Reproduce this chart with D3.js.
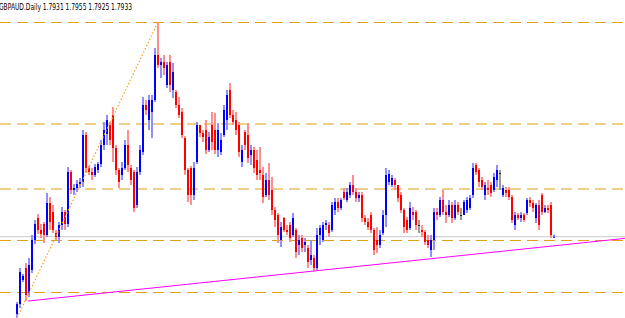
<!DOCTYPE html>
<html>
<head>
<meta charset="utf-8">
<script src="https://cdn.jsdelivr.net/npm/d3@7"></script>
<style>
  html, body { margin: 0; padding: 0; background: #fff; overflow: hidden; }
</style>
</head>
<body>
<div id="chart"></div>
<script>
// GBPAUD daily candles (oldest first)
const symbol = 'GBPAUD.Daily';
const quote = ['1.7931', '1.7955', '1.7925', '1.7933'];

const opens = [
  1.716, 1.726, 1.750, 1.762, 1.737, 1.760, 1.790, 1.812, 1.800, 1.806,
  1.795, 1.827, 1.818, 1.797, 1.793, 1.805, 1.818, 1.806, 1.858, 1.840,
  1.842, 1.846, 1.848, 1.895, 1.862, 1.858, 1.855, 1.860, 1.866, 1.885,
  1.896, 1.905, 1.915, 1.882, 1.860, 1.855, 1.862, 1.885, 1.862, 1.858,
  1.825, 1.858, 1.878, 1.925, 1.910, 1.918, 1.930, 1.975, 1.965, 1.968,
  1.945, 1.968, 1.940, 1.938, 1.925, 1.918, 1.892, 1.860, 1.862, 1.835,
  1.868, 1.905, 1.897, 1.900, 1.880, 1.905, 1.900, 1.880, 1.878, 1.895,
  1.910, 1.940, 1.915, 1.910, 1.905, 1.868, 1.898, 1.895, 1.875, 1.880,
  1.870, 1.860, 1.855, 1.835, 1.850, 1.840, 1.820, 1.815, 1.790, 1.812,
  1.800, 1.805, 1.795, 1.800, 1.785, 1.792, 1.785, 1.782, 1.770, 1.772,
  1.762, 1.795, 1.790, 1.805, 1.805, 1.800, 1.820, 1.828, 1.822, 1.838,
  1.830, 1.835, 1.845, 1.838, 1.832, 1.835, 1.812, 1.808, 1.815, 1.800,
  1.790, 1.785, 1.797, 1.815, 1.848, 1.845, 1.850, 1.845, 1.835, 1.820,
  1.810, 1.802, 1.818, 1.818, 1.805, 1.800, 1.798, 1.790, 1.780, 1.790,
  1.818, 1.815, 1.830, 1.818, 1.815, 1.825, 1.812, 1.825, 1.815, 1.815,
  1.820, 1.822, 1.835, 1.865, 1.860, 1.850, 1.835, 1.842, 1.845, 1.840,
  1.850, 1.857, 1.835, 1.840, 1.840, 1.833, 1.805, 1.815, 1.812, 1.815,
  1.817, 1.830, 1.827, 1.812, 1.825, 1.835, 1.818, 1.822, 1.825, 1.7931
];
const highs = [
  1.728, 1.762, 1.756, 1.767, 1.772, 1.795, 1.810, 1.816, 1.806, 1.808,
  1.837, 1.833, 1.825, 1.800, 1.808, 1.823, 1.820, 1.863, 1.860, 1.846,
  1.850, 1.852, 1.900, 1.898, 1.864, 1.862, 1.866, 1.868, 1.890, 1.908,
  1.915, 1.908, 1.923, 1.885, 1.862, 1.868, 1.890, 1.900, 1.865, 1.860,
  1.863, 1.885, 1.933, 1.930, 1.935, 1.935, 1.982, 2.008, 1.972, 1.975,
  1.968, 1.975, 1.967, 1.940, 1.933, 1.922, 1.894, 1.862, 1.864, 1.868,
  1.908, 1.905, 1.900, 1.910, 1.898, 1.918, 1.917, 1.907, 1.897, 1.925,
  1.940, 1.947, 1.920, 1.918, 1.908, 1.885, 1.900, 1.907, 1.885, 1.883,
  1.880, 1.883, 1.863, 1.857, 1.867, 1.853, 1.823, 1.817, 1.808, 1.813,
  1.805, 1.808, 1.817, 1.802, 1.795, 1.795, 1.792, 1.785, 1.790, 1.775,
  1.802, 1.805, 1.808, 1.810, 1.808, 1.828, 1.832, 1.832, 1.832, 1.842,
  1.842, 1.848, 1.855, 1.842, 1.838, 1.838, 1.815, 1.812, 1.818, 1.802,
  1.803, 1.800, 1.820, 1.862, 1.860, 1.855, 1.852, 1.845, 1.838, 1.822,
  1.813, 1.828, 1.823, 1.820, 1.810, 1.805, 1.800, 1.795, 1.795, 1.822,
  1.822, 1.833, 1.840, 1.825, 1.830, 1.828, 1.830, 1.828, 1.822, 1.830,
  1.833, 1.835, 1.867, 1.867, 1.862, 1.853, 1.848, 1.850, 1.848, 1.857,
  1.865, 1.860, 1.845, 1.843, 1.843, 1.835, 1.818, 1.817, 1.818, 1.817,
  1.832, 1.833, 1.830, 1.827, 1.830, 1.837, 1.825, 1.825, 1.828, 1.7955
];
const lows = [
  1.712, 1.722, 1.748, 1.729, 1.733, 1.757, 1.786, 1.796, 1.792, 1.787,
  1.793, 1.800, 1.797, 1.790, 1.787, 1.800, 1.800, 1.803, 1.836, 1.835,
  1.838, 1.842, 1.843, 1.857, 1.855, 1.850, 1.853, 1.857, 1.863, 1.880,
  1.885, 1.885, 1.868, 1.855, 1.842, 1.850, 1.860, 1.858, 1.845, 1.818,
  1.822, 1.855, 1.875, 1.915, 1.900, 1.892, 1.928, 1.962, 1.952, 1.955,
  1.942, 1.938, 1.932, 1.922, 1.912, 1.892, 1.855, 1.828, 1.825, 1.830,
  1.866, 1.893, 1.888, 1.876, 1.878, 1.880, 1.876, 1.873, 1.875, 1.893,
  1.900, 1.912, 1.905, 1.895, 1.873, 1.863, 1.880, 1.867, 1.865, 1.857,
  1.850, 1.850, 1.827, 1.833, 1.830, 1.815, 1.803, 1.787, 1.783, 1.798,
  1.795, 1.788, 1.793, 1.772, 1.775, 1.778, 1.778, 1.762, 1.765, 1.759,
  1.760, 1.785, 1.788, 1.800, 1.793, 1.798, 1.815, 1.818, 1.820, 1.830,
  1.828, 1.832, 1.835, 1.828, 1.828, 1.808, 1.805, 1.800, 1.797, 1.775,
  1.777, 1.782, 1.795, 1.803, 1.845, 1.843, 1.840, 1.828, 1.817, 1.797,
  1.797, 1.800, 1.810, 1.800, 1.797, 1.793, 1.785, 1.782, 1.773, 1.780,
  1.810, 1.813, 1.815, 1.807, 1.813, 1.807, 1.810, 1.815, 1.810, 1.815,
  1.817, 1.820, 1.832, 1.855, 1.843, 1.840, 1.830, 1.835, 1.833, 1.838,
  1.843, 1.840, 1.833, 1.833, 1.830, 1.807, 1.800, 1.810, 1.808, 1.808,
  1.815, 1.823, 1.818, 1.807, 1.800, 1.815, 1.817, 1.817, 1.792, 1.7925
];
const closes = [
  1.726, 1.758, 1.754, 1.735, 1.765, 1.790, 1.806, 1.800, 1.796, 1.795,
  1.827, 1.808, 1.800, 1.793, 1.805, 1.818, 1.806, 1.858, 1.840, 1.842,
  1.846, 1.848, 1.895, 1.862, 1.858, 1.855, 1.863, 1.866, 1.885, 1.900,
  1.910, 1.890, 1.882, 1.860, 1.848, 1.862, 1.885, 1.865, 1.850, 1.822,
  1.858, 1.880, 1.925, 1.920, 1.930, 1.930, 1.975, 1.965, 1.968, 1.962,
  1.965, 1.945, 1.958, 1.925, 1.915, 1.895, 1.860, 1.835, 1.835, 1.862,
  1.905, 1.897, 1.893, 1.880, 1.893, 1.888, 1.880, 1.900, 1.890, 1.920,
  1.935, 1.915, 1.908, 1.900, 1.878, 1.880, 1.885, 1.872, 1.880, 1.862,
  1.855, 1.857, 1.833, 1.850, 1.835, 1.820, 1.810, 1.795, 1.803, 1.800,
  1.798, 1.792, 1.812, 1.778, 1.790, 1.782, 1.788, 1.768, 1.775, 1.762,
  1.795, 1.802, 1.805, 1.807, 1.797, 1.825, 1.828, 1.822, 1.830, 1.832,
  1.838, 1.845, 1.838, 1.832, 1.835, 1.812, 1.808, 1.803, 1.800, 1.780,
  1.785, 1.795, 1.815, 1.855, 1.856, 1.852, 1.845, 1.832, 1.820, 1.803,
  1.800, 1.822, 1.815, 1.805, 1.805, 1.798, 1.788, 1.785, 1.790, 1.818,
  1.815, 1.830, 1.818, 1.815, 1.825, 1.812, 1.825, 1.818, 1.815, 1.828,
  1.830, 1.832, 1.862, 1.858, 1.848, 1.843, 1.845, 1.840, 1.837, 1.853,
  1.860, 1.857, 1.842, 1.837, 1.833, 1.810, 1.815, 1.812, 1.815, 1.810,
  1.830, 1.827, 1.822, 1.825, 1.805, 1.818, 1.822, 1.820, 1.795, 1.7933
];

// horizontal support / resistance levels (dashed), current bid line
const levels = [2.0075, 1.9060, 1.8410, 1.7895, 1.7375];
const bid = 1.7933;
// trend line through two lows (bar index, price), extended to the right edge
const trendPts = [[3.7, 1.7290], [99, 1.7590]];
// dotted line from the first low to the top
const swingPts = [[0, 1.7120], [47, 2.0080]];

const W = 625, H = 318;

const svg = d3.select('#chart').append('svg')
  .attr('width', W).attr('height', H)
  .style('display', 'block')
  .style('background', '#fff');

const x = d3.scaleLinear().domain([0, opens.length - 1]).range([17, 554]);
const y = d3.scaleLinear().domain([1.712, 2.030]).range([H, 0]);

// Levels
svg.append('g').selectAll('line')
  .data(levels)
  .join('line')
  .attr('x1', 0).attr('x2', W)
  .attr('y1', d => y(d)).attr('y2', d => y(d))
  .attr('stroke', '#e0a010')
  .attr('stroke-width', 1)
  .attr('stroke-dasharray', '11,6');

// Bid line
svg.append('line')
  .attr('x1', 0).attr('x2', W)
  .attr('y1', y(bid)).attr('y2', y(bid))
  .attr('stroke', '#c8c8c8')
  .attr('stroke-width', 1);

// Candles
const candles = d3.range(opens.length).map(i => ({
  i, o: opens[i], h: highs[i], l: lows[i], c: closes[i]
}));

function tone(d) {
  if (d.c === d.o) return { body: '#222', wick: '#9a9a9a' };
  return d.c > d.o ? { body: '#0000ff', wick: '#8f8fff' } : { body: '#ff0000', wick: '#ff8f8f' };
}

const cg = svg.append('g');
cg.selectAll('rect.wick')
  .data(candles)
  .join('rect')
  .attr('class', 'wick')
  .attr('x', d => x(d.i) - 1)
  .attr('width', 2)
  .attr('y', d => y(d.h))
  .attr('height', d => Math.max(1, y(d.l) - y(d.h)))
  .attr('fill', d => tone(d).wick);

cg.selectAll('rect.body')
  .data(candles)
  .join('rect')
  .attr('class', 'body')
  .attr('x', d => x(d.i) - 1)
  .attr('width', 2)
  .attr('y', d => y(Math.max(d.o, d.c)))
  .attr('height', d => Math.max(1, Math.abs(y(d.o) - y(d.c))))
  .attr('fill', d => tone(d).body);

// Dotted swing line
svg.append('line')
  .attr('x1', x(swingPts[0][0])).attr('y1', y(swingPts[0][1]))
  .attr('x2', x(swingPts[1][0])).attr('y2', y(swingPts[1][1]))
  .attr('stroke', '#ffa020')
  .attr('stroke-width', 1.2)
  .attr('stroke-dasharray', '1.5,2');

// Trend line, extended to the right edge
const slope = (trendPts[1][1] - trendPts[0][1]) / (trendPts[1][0] - trendPts[0][0]);
const iEnd = x.invert(W);
svg.append('line')
  .attr('x1', x(trendPts[0][0])).attr('y1', y(trendPts[0][1]))
  .attr('x2', W).attr('y2', y(trendPts[0][1] + slope * (iEnd - trendPts[0][0])))
  .attr('stroke', '#ff00ff')
  .attr('stroke-width', 1);

// Header
svg.append('text')
  .attr('x', -1).attr('y', 10)
  .attr('font-family', "'DejaVu Sans Condensed', 'Liberation Sans Narrow', 'DejaVu Sans', sans-serif")
  .attr('font-size', '8px')
  .attr('fill', '#000')
  .attr('textLength', 133)
  .attr('lengthAdjust', 'spacingAndGlyphs')
  .text(`${symbol}  ${quote.join(' ')}`);
</script>
</body>
</html>
